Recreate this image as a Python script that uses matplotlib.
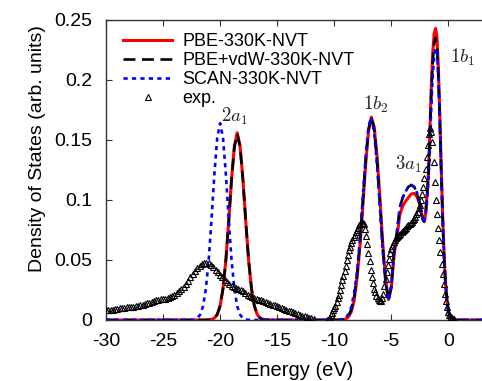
import numpy as np
import matplotlib
matplotlib.use("Agg")
import matplotlib.pyplot as plt

plt.rcParams['font.family'] = ['Liberation Sans', 'DejaVu Sans']
plt.rcParams['mathtext.fontset'] = 'cm'
plt.rcParams['axes.unicode_minus'] = False

# ---------------- data ----------------
energy = [-30.0,
          -22.5, -22.25, -22.0, -21.75, -21.5, -21.25, -21.0, -20.75, -20.5, -20.25,
          -20.0, -19.75, -19.5, -19.25, -19.0, -18.75, -18.5, -18.25, -18.0, -17.75,
          -17.5, -17.25, -17.0, -16.75, -16.5, -16.25, -16.0, -15.75,
          -15.5, -10.0,
          -9.75, -9.5, -9.25, -9.0, -8.75, -8.5, -8.25, -8.0, -7.75, -7.5,
          -7.25, -7.0, -6.75, -6.5, -6.25, -6.0, -5.75, -5.5, -5.25, -5.0,
          -4.75, -4.5, -4.25, -4.0, -3.75, -3.5, -3.25, -3.0, -2.75, -2.5, -2.25,
          -2.125, -2.0, -1.875, -1.75, -1.625, -1.5, -1.375, -1.25, -1.125, -1.0,
          -0.875, -0.75, -0.625, -0.5, -0.375, -0.25, -0.125, 0.0, 0.125, 0.25,
          0.375, 0.5,
          0.75, 3.0, 4.0]

dos_pbe = [0.0,
           0, 0, 0, 0, 0, 0, 0.0001, 0.0005, 0.0016, 0.0046,
           0.0118, 0.026, 0.0495, 0.0818, 0.117, 0.145, 0.156, 0.145, 0.117, 0.0818,
           0.0495, 0.026, 0.0118, 0.0046, 0.0016, 0.0005, 0.0001, 0,
           0, 0,
           0, 0, 0.0002, 0.0008, 0.0026, 0.0070, 0.0165, 0.035, 0.061, 0.094,
           0.129, 0.157, 0.169, 0.161, 0.137, 0.102, 0.064, 0.034, 0.017, 0.027,
           0.055, 0.069, 0.088, 0.095, 0.099, 0.102, 0.105, 0.1055, 0.103, 0.096, 0.084,
           0.082, 0.088, 0.103, 0.122, 0.156, 0.193, 0.222, 0.238, 0.243, 0.236,
           0.210, 0.172, 0.127, 0.087, 0.054, 0.031, 0.016, 0.0077, 0.0033, 0.0013,
           0.0005, 0.0001,
           0, 0, 0]

dos_vdw = [0.0,
           0, 0, 0, 0, 0, 0, 0.0001, 0.0005, 0.0016, 0.0046,
           0.0118, 0.026, 0.0495, 0.0818, 0.117, 0.144, 0.155, 0.144, 0.117, 0.0818,
           0.0495, 0.026, 0.0118, 0.0046, 0.0016, 0.0005, 0.0001, 0,
           0, 0,
           0, 0.0001, 0.0004, 0.0013, 0.0036, 0.0088, 0.0193, 0.0375, 0.0644, 0.0982,
           0.133, 0.159, 0.169, 0.159, 0.133, 0.0982, 0.060, 0.032, 0.016, 0.028,
           0.057, 0.074, 0.094, 0.102, 0.107, 0.111, 0.1125, 0.111, 0.106, 0.097, 0.084,
           0.082, 0.088, 0.102, 0.120, 0.152, 0.188, 0.215, 0.230, 0.235, 0.228,
           0.203, 0.166, 0.123, 0.084, 0.052, 0.030, 0.0156, 0.0074, 0.0032, 0.0013,
           0.0005, 0.0001,
           0, 0, 0]

dos_scan = [0.0,
            0.0001, 0.0004, 0.0014, 0.0044, 0.0114, 0.0258, 0.0502, 0.0843, 0.122, 0.152,
            0.164, 0.152, 0.122, 0.0843, 0.0502, 0.0258, 0.0114, 0.0044, 0.0014, 0.0004,
            0.0001, 0, 0, 0, 0, 0, 0, 0,
            0, 0,
            0, 0.0002, 0.0006, 0.0018, 0.0048, 0.0110, 0.0230, 0.040, 0.068, 0.102,
            0.136, 0.161, 0.169, 0.156, 0.129, 0.094, 0.058, 0.031, 0.016, 0.028,
            0.057, 0.074, 0.094, 0.102, 0.107, 0.111, 0.1125, 0.111, 0.106, 0.096, 0.083,
            0.081, 0.086, 0.098, 0.115, 0.143, 0.176, 0.203, 0.219, 0.226, 0.225,
            0.203, 0.168, 0.126, 0.087, 0.055, 0.032, 0.017, 0.008, 0.0035, 0.0014,
            0.0005, 0.0001,
            0, 0, 0]

# experimental spectrum, low-energy part (-30 ... -11.8 eV, step 0.2)
exp_low = [0.0080, 0.0082, 0.0084, 0.0087, 0.0090, 0.0093, 0.0096, 0.0099, 0.0102, 0.0105,
           0.0107, 0.0109, 0.0111, 0.0115, 0.0119, 0.0123, 0.0128, 0.0133, 0.0139, 0.0145,
           0.0151, 0.0157, 0.0164, 0.0169, 0.0173, 0.0176, 0.0179, 0.0183, 0.0190, 0.0198,
           0.0208, 0.0222, 0.0238, 0.0256, 0.0278, 0.0302, 0.0328, 0.0357, 0.0384, 0.0410,
           0.0432, 0.0450, 0.0463, 0.0472, 0.0478, 0.0475, 0.0462, 0.0440, 0.0418, 0.0396,
           0.0375, 0.0356, 0.0337, 0.0318, 0.0300, 0.0285, 0.0273, 0.0263, 0.0255, 0.0247,
           0.0238, 0.0226, 0.0212, 0.0198, 0.0188, 0.0180, 0.0174, 0.0169, 0.0163, 0.0156,
           0.0149, 0.0142, 0.0135, 0.0128, 0.0121, 0.0114, 0.0107, 0.0100, 0.0093, 0.0086,
           0.0079, 0.0072, 0.0065, 0.0058, 0.0050, 0.0043, 0.0036, 0.0030, 0.0024, 0.0019,
           0.0015, 0.0012]
exp_low_energy = np.linspace(-30.0, -11.8, len(exp_low))

# experimental spectrum, valence part (-10.6 ... 0.5 eV, step 0.1)
exp_high = [0.000, 0.001, 0.002, 0.004, 0.006, 0.008, 0.010, 0.012, 0.015, 0.018,
            0.021, 0.025, 0.029, 0.033, 0.037, 0.041, 0.045, 0.050, 0.054, 0.058,
            0.061, 0.064, 0.067, 0.069, 0.071, 0.073, 0.075, 0.077, 0.079, 0.080,
            0.081, 0.081, 0.080, 0.076, 0.070, 0.063, 0.056, 0.049, 0.042, 0.036,
            0.031, 0.026, 0.023, 0.020, 0.018, 0.017, 0.016, 0.016, 0.018, 0.022,
            0.028, 0.034, 0.040, 0.046, 0.051, 0.056, 0.059, 0.062, 0.065, 0.067,
            0.068, 0.069, 0.070, 0.071, 0.072, 0.073, 0.074, 0.075, 0.076, 0.077,
            0.078, 0.079, 0.080, 0.081, 0.082, 0.083, 0.084, 0.086, 0.088, 0.090,
            0.093, 0.096, 0.100, 0.105, 0.111, 0.118, 0.126, 0.136, 0.146, 0.155,
            0.160, 0.157, 0.148, 0.132, 0.115, 0.100, 0.088, 0.077, 0.067, 0.057,
            0.047, 0.038, 0.030, 0.022, 0.016, 0.011, 0.007, 0.004, 0.0025, 0.0015,
            0.001, 0.0005]
exp_high_energy = np.linspace(-10.6, 0.5, len(exp_high))

xticks = [-30, -25, -20, -15, -10, -5, 0]
xticklabels = ['-30', '-25', '-20', '-15', '-10', '-5', '0']
yticks = [0, 0.05, 0.1, 0.15, 0.2, 0.25]
yticklabels = ['0', '0.05', '0.1', '0.15', '0.2', '0.25']

peak_labels = [r'$2a_1$', r'$1b_2$', r'$3a_1$', r'$1b_1$']
peak_x = [-19.9, -7.5, -4.7, 0.15]
peak_y = [0.165, 0.175, 0.125, 0.214]

# ---------------- figure ----------------
fig = plt.figure(figsize=(4.82, 3.81), dpi=100)
ax = fig.add_axes([106/482, 1 - 320/381, 388/482, 300/381])

ax.plot(energy, dos_pbe, color='#ff0000', lw=2.2, label='PBE-330K-NVT', zorder=2)
ax.plot(energy, dos_vdw, color='black', lw=1.9, ls=(0, (4.5, 2.5)),
        label='PBE+vdW-330K-NVT', zorder=3)
ax.plot(energy, dos_scan, color='#0000ff', lw=1.9, ls=(0, (1.6, 1.6)),
        label='SCAN-330K-NVT', zorder=4)
exp_e = np.concatenate([exp_low_energy, exp_high_energy])
exp_v = np.concatenate([exp_low, exp_high])
ax.plot(exp_e, exp_v, ls='none', marker='^', ms=5.0, mfc='none', mec='black',
        mew=0.8, label='exp.', zorder=5)

for lab, xx, yy in zip(peak_labels, peak_x, peak_y):
    ax.text(xx, yy, lab, fontsize=13.5, ha='left', va='baseline', color='#222222')

ax.set_xlim(-30, 4)
ax.set_ylim(0, 0.25)
ax.set_xticks(xticks)
ax.set_xticklabels(xticklabels)
ax.set_yticks(yticks)
ax.set_yticklabels(yticklabels)
ax.tick_params(direction='in', top=True, right=True, length=4, width=0.8,
               labelsize=14, color='#333333')
ax.tick_params(axis='x', pad=9)
ax.tick_params(axis='y', pad=10)
for sp in ax.spines.values():
    sp.set_linewidth(1.0)
    sp.set_color('#333333')

ax.set_xlabel('Energy (eV)', fontsize=14.5)
ax.set_ylabel('Density of States (arb. units)', fontsize=14)
ax.xaxis.set_label_coords(0.5, -0.135)
ax.yaxis.set_label_coords(-0.155, 0.573)

leg = ax.legend(loc='upper left', bbox_to_anchor=(0.045, 0.955), frameon=False,
                fontsize=13, handlelength=2.7, handletextpad=0.55,
                labelspacing=0.1, borderpad=0, borderaxespad=0, numpoints=1)

fig.savefig('out.png', dpi=100)
